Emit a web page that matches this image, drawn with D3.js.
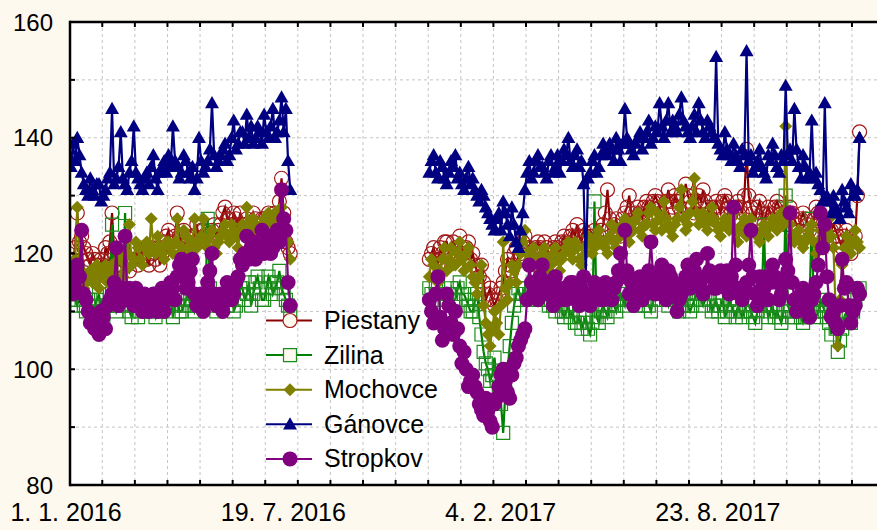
<!DOCTYPE html>
<html>
<head>
<meta charset="utf-8">
<script src="https://cdn.jsdelivr.net/npm/d3@7"></script>
<style>
body{margin:0;background:#fdf9ee;}
svg{display:block;font-family:Arial,"Liberation Sans",sans-serif;}
</style>
</head>
<body>
<svg id="chart" width="877" height="530"></svg>
<script>
// two measuring periods, one reading every 2 days
var periodStarts = ["2016-01-02", "2016-11-29"];
var stepDays = 2;

var piestanyA = [120,118,119,121,127,122,123,121,120,119,118,120,119,118,117,119,118,121,120,122,127,120,119,118,118,119,120,118,117,119,119,121,118,119,120,121,119,118,121,120,119,121,118,120,122,123,124,122,121,123,127,123,122,124,123,122,121,123,123,125,122,124,124,123,122,123,124,125,123,124,125,127,128,126,126,125,127,126,125,127,124,125,126,124,125,127,126,125,124,126,126,125,127,126,125,127,126,129,133,127,122,121,120];
var piestanyB = [119,120,121,119,118,121,120,122,122,120,119,122,121,120,123,121,120,121,122,119,120,118,117,116,118,115,112,113,114,112,111,112,113,114,115,117,119,118,117,120,121,119,120,122,123,121,121,120,119,121,122,121,120,122,121,120,119,121,122,121,120,122,123,122,121,123,124,123,125,123,122,124,123,122,121,123,124,123,122,124,125,127,131,126,124,125,126,124,123,126,127,128,130,127,125,127,128,127,126,128,129,128,127,129,130,129,128,127,126,129,131,129,128,130,129,128,127,130,132,130,129,128,127,129,130,129,131,129,128,127,126,128,129,128,127,129,130,129,128,127,126,128,129,128,127,130,138,130,128,127,126,128,129,127,125,127,128,127,126,128,129,128,127,126,125,127,128,127,126,125,124,126,127,126,125,124,123,126,128,127,126,125,124,123,122,124,125,124,123,122,121,123,124,122,120,122,123,130,141];

var zilinaA = [112,113,114,112,111,113,113,111,110,112,112,110,111,112,113,110,109,111,111,113,125,112,110,111,112,114,127,111,110,109,111,112,109,110,112,111,110,112,111,110,109,111,110,112,112,110,111,112,109,111,113,110,110,111,112,113,111,112,110,111,113,112,111,113,126,114,112,111,110,112,111,113,113,111,112,114,110,111,112,114,114,112,113,115,111,113,115,116,114,112,112,114,116,115,113,114,115,117,114,113,112,111,110];
var zilinaB = [114,113,112,114,115,113,113,112,111,113,114,112,112,114,115,113,113,112,111,110,110,112,113,109,106,103,101,100,98,99,102,98,97,94,89,96,100,104,108,111,113,114,112,113,114,112,113,114,115,113,112,113,114,112,113,111,112,111,110,111,112,110,109,110,111,109,110,108,108,109,107,108,109,107,106,108,129,109,108,110,111,110,109,111,112,111,110,112,113,112,111,113,112,113,114,112,111,112,113,111,112,111,110,112,114,113,112,114,113,112,111,113,114,113,112,110,111,112,113,111,110,111,112,113,114,112,111,112,113,112,110,111,112,110,111,112,109,110,112,111,110,109,111,110,109,110,112,111,110,109,108,110,111,112,125,111,109,110,111,109,110,109,108,110,130,111,110,109,109,110,111,109,108,109,110,112,126,110,109,110,112,111,110,109,108,106,111,107,103,105,107,109,110,109,108,110,112,113,114];

var mochovceA = [118,115,116,119,128,118,117,114,115,116,117,115,116,118,114,116,117,118,115,117,118,115,116,119,119,116,117,120,125,118,119,122,121,119,118,121,122,120,126,121,120,123,121,120,119,122,122,121,120,122,126,120,121,124,123,121,120,122,126,121,122,123,126,122,121,123,124,121,120,122,123,124,125,123,122,125,124,123,121,124,125,123,128,125,124,126,125,124,123,125,126,124,127,126,125,127,126,125,128,126,124,122,119];
var mochovceB = [116,119,118,116,115,117,119,121,117,119,121,118,118,120,122,119,117,120,121,118,116,115,113,116,118,111,108,106,104,107,110,108,106,111,122,114,112,115,118,117,115,118,120,122,124,120,119,118,121,119,117,118,120,121,119,117,118,120,121,119,117,119,120,121,122,120,119,122,121,119,118,121,120,123,122,120,121,123,124,122,122,121,120,123,125,122,121,124,123,125,126,123,122,125,124,126,127,124,123,125,125,127,128,125,124,127,126,124,129,126,125,124,123,125,126,128,131,126,124,125,127,129,133,127,125,126,127,125,124,126,128,126,125,124,123,125,126,125,124,126,127,124,122,124,125,126,123,125,126,124,124,123,122,124,125,124,123,125,126,125,124,126,127,125,142,126,125,123,122,123,124,122,121,122,123,124,125,122,120,122,124,123,122,124,126,123,121,110,104,112,118,121,123,121,120,122,124,122,121];

var ganovceA = [137,135,139,136,140,137,134,132,131,130,133,131,130,132,132,129,130,131,133,134,145,132,133,135,141,133,132,131,134,136,142,134,133,132,131,133,134,132,135,137,133,131,134,135,136,134,137,135,142,136,135,133,134,137,136,134,133,135,131,133,140,136,134,135,136,138,146,137,135,136,137,138,139,136,137,140,143,138,139,141,141,139,144,140,142,139,140,142,141,139,144,141,140,142,145,140,141,143,147,141,145,136,131];
var ganovceB = [134,136,137,134,133,136,135,133,132,134,136,135,137,133,134,132,131,133,135,132,133,131,130,129,131,130,128,127,126,125,124,126,127,124,129,127,125,123,128,125,122,121,124,127,131,134,136,133,134,136,137,135,135,134,133,136,137,134,135,137,134,136,138,137,140,136,135,137,138,135,136,132,116,133,134,136,137,134,135,137,139,138,137,139,138,136,140,138,136,139,145,140,139,138,137,139,140,141,138,140,141,143,139,140,142,141,146,142,140,143,146,141,143,142,141,144,147,143,142,141,140,142,144,141,146,143,141,140,143,142,141,140,154,139,138,137,141,138,137,136,139,137,136,135,138,137,155,136,137,134,135,136,138,135,134,133,137,136,139,137,135,134,137,136,149,137,138,136,145,138,135,133,137,135,133,134,143,133,134,132,131,129,146,130,129,127,130,128,127,126,131,129,128,127,132,130,130,131,140];

var stropkovA = [115,117,113,114,118,116,124,113,112,110,108,109,107,108,106,110,109,107,111,112,113,115,121,111,112,114,123,112,114,112,111,114,113,111,110,113,112,110,111,113,113,110,112,114,110,112,113,115,114,112,116,118,119,116,114,115,117,119,113,111,112,113,110,112,115,117,120,113,111,112,113,110,112,115,114,112,113,115,116,119,118,120,123,119,121,122,119,121,121,124,120,122,123,120,121,123,124,122,131,126,124,115,111];
var stropkovB = [112,110,108,113,116,109,105,107,113,111,108,106,110,107,104,101,103,100,97,98,99,97,96,94,93,92,95,93,91,90,94,95,97,99,100,98,96,95,99,101,102,104,105,106,107,112,118,115,113,114,112,116,118,113,114,115,113,111,116,114,112,113,114,112,113,115,115,113,112,111,114,116,113,112,111,113,115,114,113,112,112,115,114,113,112,114,115,117,120,116,124,117,113,115,111,112,114,116,112,113,115,117,122,116,113,114,116,118,114,112,117,116,115,113,110,112,113,115,116,118,114,116,117,119,115,114,113,116,120,117,116,114,114,116,117,115,115,117,113,116,128,118,114,113,112,114,115,118,124,116,113,111,116,114,114,116,112,115,118,116,115,112,113,115,119,117,127,115,112,110,111,113,114,112,110,109,112,113,115,118,127,121,125,116,112,109,110,108,107,111,119,114,115,111,108,110,111,114,113];

var seriesNames = ["Piestany", "Zilina", "Mochovce", "Gánovce", "Stropkov"];
var seriesPeriods = {
  "Piestany": [piestanyA, piestanyB],
  "Zilina":   [zilinaA, zilinaB],
  "Mochovce": [mochovceA, mochovceB],
  "Gánovce":  [ganovceA, ganovceB],
  "Stropkov": [stropkovA, stropkovB]
};
var yTicks = [80, 100, 120, 140, 160];
var xLabels = ["1. 1. 2016", "19. 7. 2016", "4. 2. 2017", "23. 8. 2017"];
var xLabelDates = ["2016-01-01", "2016-07-19", "2017-02-04", "2017-08-23"];

var parse = d3.utcParse("%Y-%m-%d");

var LEFT = 70, TOP = 22, BOTTOM = 485, RIGHT = 881;
var origin = parse("2016-01-01");
var PX_DAY = 1.0865;

var xScale = d3.scaleUtc()
  .domain([origin, d3.utcDay.offset(origin, 750)])
  .range([67.5, 67.5 + 750*PX_DAY]);
var yScale = d3.scaleLinear().domain([80, 160]).range([BOTTOM, TOP]);

var svg = d3.select("#chart");
svg.append("rect").attr("width", 877).attr("height", 530).attr("fill", "#fdf9ee");
svg.append("rect").attr("x", LEFT).attr("y", TOP)
  .attr("width", RIGHT-LEFT).attr("height", BOTTOM-TOP).attr("fill", "#fff");

svg.append("clipPath").attr("id", "plot")
  .append("rect").attr("x", LEFT).attr("y", TOP).attr("width", RIGHT-LEFT).attr("height", BOTTOM-TOP);

// minor ticks every 30 days
var tickDates = d3.range(0, 25).map(function(k){ return d3.utcDay.offset(origin, 2 + 30*k); });
var minorY = d3.range(80, 161, 10);

var grid = svg.append("g").attr("stroke", "#c4c4c4").attr("stroke-dasharray", "3,3").attr("stroke-width", 1);
grid.selectAll(".gy").data(minorY.slice(1, -1)).enter().append("line")
  .attr("x1", LEFT).attr("x2", RIGHT)
  .attr("y1", function(d){ return yScale(d); }).attr("y2", function(d){ return yScale(d); });
grid.selectAll(".gx").data(tickDates.slice(1)).enter().append("line")
  .attr("x1", function(d){ return xScale(d); }).attr("x2", function(d){ return xScale(d); })
  .attr("y1", TOP).attr("y2", BOTTOM);

var styles = {
  "Piestany": {color: "#8b0000", mark: "#a01818", shape: "circleOpen"},
  "Zilina":   {color: "#008000", mark: "#1c8c1c", shape: "square"},
  "Mochovce": {color: "#808000", mark: "#808000", shape: "diamond"},
  "Gánovce":  {color: "#000080", mark: "#000080", shape: "triangle"},
  "Stropkov": {color: "#800080", mark: "#800080", shape: "circle"}
};

var shapePath = {
  circleOpen: d3.symbol(d3.symbolCircle, 154)(),
  circle: d3.symbol(d3.symbolCircle, 177)(),
  square: "M-6.5,-6.5H6.5V6.5H-6.5Z",
  diamond: "M0,-6.5L6.5,0L0,6.5L-6.5,0Z",
  triangle: "M0,-7L7,5.2L-7,5.2Z"
};
var drawMarker = function(sel, name, fillOpen){
  var st = styles[name];
  var open = st.shape === "circleOpen" || st.shape === "square";
  sel.attr("d", shapePath[st.shape])
    .attr("fill", open ? fillOpen : st.mark)
    .attr("stroke", open ? st.mark : "none")
    .attr("stroke-width", open ? 1.2 : 0);
};

var line = d3.line()
  .x(function(d){ return xScale(d.date); })
  .y(function(d){ return yScale(d.v); });

var plot = svg.append("g").attr("clip-path", "url(#plot)");
seriesNames.forEach(function(name){
  var g = plot.append("g");
  var pts = [];
  seriesPeriods[name].forEach(function(vals, p){
    var d0 = parse(periodStarts[p]);
    var piece = vals.map(function(v, i){ return {date: d3.utcDay.offset(d0, i*stepDays), v: v}; });
    g.append("path").attr("d", line(piece)).attr("fill", "none")
      .attr("stroke", styles[name].color).attr("stroke-width", 2.2);
    pts = pts.concat(piece);
  });
  g.selectAll(".m").data(pts).enter().append("path")
    .attr("transform", function(d){ return "translate(" + xScale(d.date) + "," + yScale(d.v) + ")"; })
    .call(drawMarker, name, "none");
});

// legend
var legend = svg.append("g");
seriesNames.forEach(function(name, i){
  var y = 320.5 + i*34.6;
  legend.append("line").attr("x1", 266).attr("x2", 312).attr("y1", y).attr("y2", y)
    .attr("stroke", styles[name].color).attr("stroke-width", 2);
  legend.append("path").attr("transform", "translate(290," + y + ")").call(drawMarker, name, "#fdf9ee");
  legend.append("text").attr("x", 324).attr("y", y + 8.5).attr("font-size", 25).text(name);
});

// frame and ticks
var frame = svg.append("g").attr("stroke", "#000");
frame.append("line").attr("x1", LEFT).attr("x2", LEFT).attr("y1", TOP - 1.2).attr("y2", BOTTOM + 1.2).attr("stroke-width", 2.5);
frame.append("line").attr("x1", LEFT).attr("x2", 877).attr("y1", TOP).attr("y2", TOP).attr("stroke-width", 2.5);
frame.append("line").attr("x1", LEFT).attr("x2", 877).attr("y1", BOTTOM).attr("y2", BOTTOM).attr("stroke-width", 2.5);
frame.selectAll(".ty").data(minorY).enter().append("line")
  .attr("x1", LEFT).attr("x2", LEFT + 5)
  .attr("y1", function(d){ return yScale(d); }).attr("y2", function(d){ return yScale(d); })
  .attr("stroke-width", 2);
frame.selectAll(".tb").data(tickDates.slice(1)).enter().append("line")
  .attr("x1", function(d){ return xScale(d); }).attr("x2", function(d){ return xScale(d); })
  .attr("y1", BOTTOM).attr("y2", BOTTOM - 5).attr("stroke-width", 2);
frame.selectAll(".tt").data(tickDates.slice(1)).enter().append("line")
  .attr("x1", function(d){ return xScale(d); }).attr("x2", function(d){ return xScale(d); })
  .attr("y1", TOP).attr("y2", TOP + 5).attr("stroke-width", 2);

svg.selectAll(".yl").data(yTicks).enter().append("text")
  .attr("x", 53).attr("y", function(d){ return yScale(d) + 8.5; })
  .attr("text-anchor", "end").attr("font-size", 24).text(function(d){ return d; });

svg.selectAll(".xl").data(xLabels).enter().append("text")
  .attr("x", function(d, i){ return xScale(parse(xLabelDates[i])) - 1.5; })
  .attr("y", 521).attr("text-anchor", "middle").attr("font-size", 25)
  .text(function(d){ return d; });
</script>
</body>
</html>
